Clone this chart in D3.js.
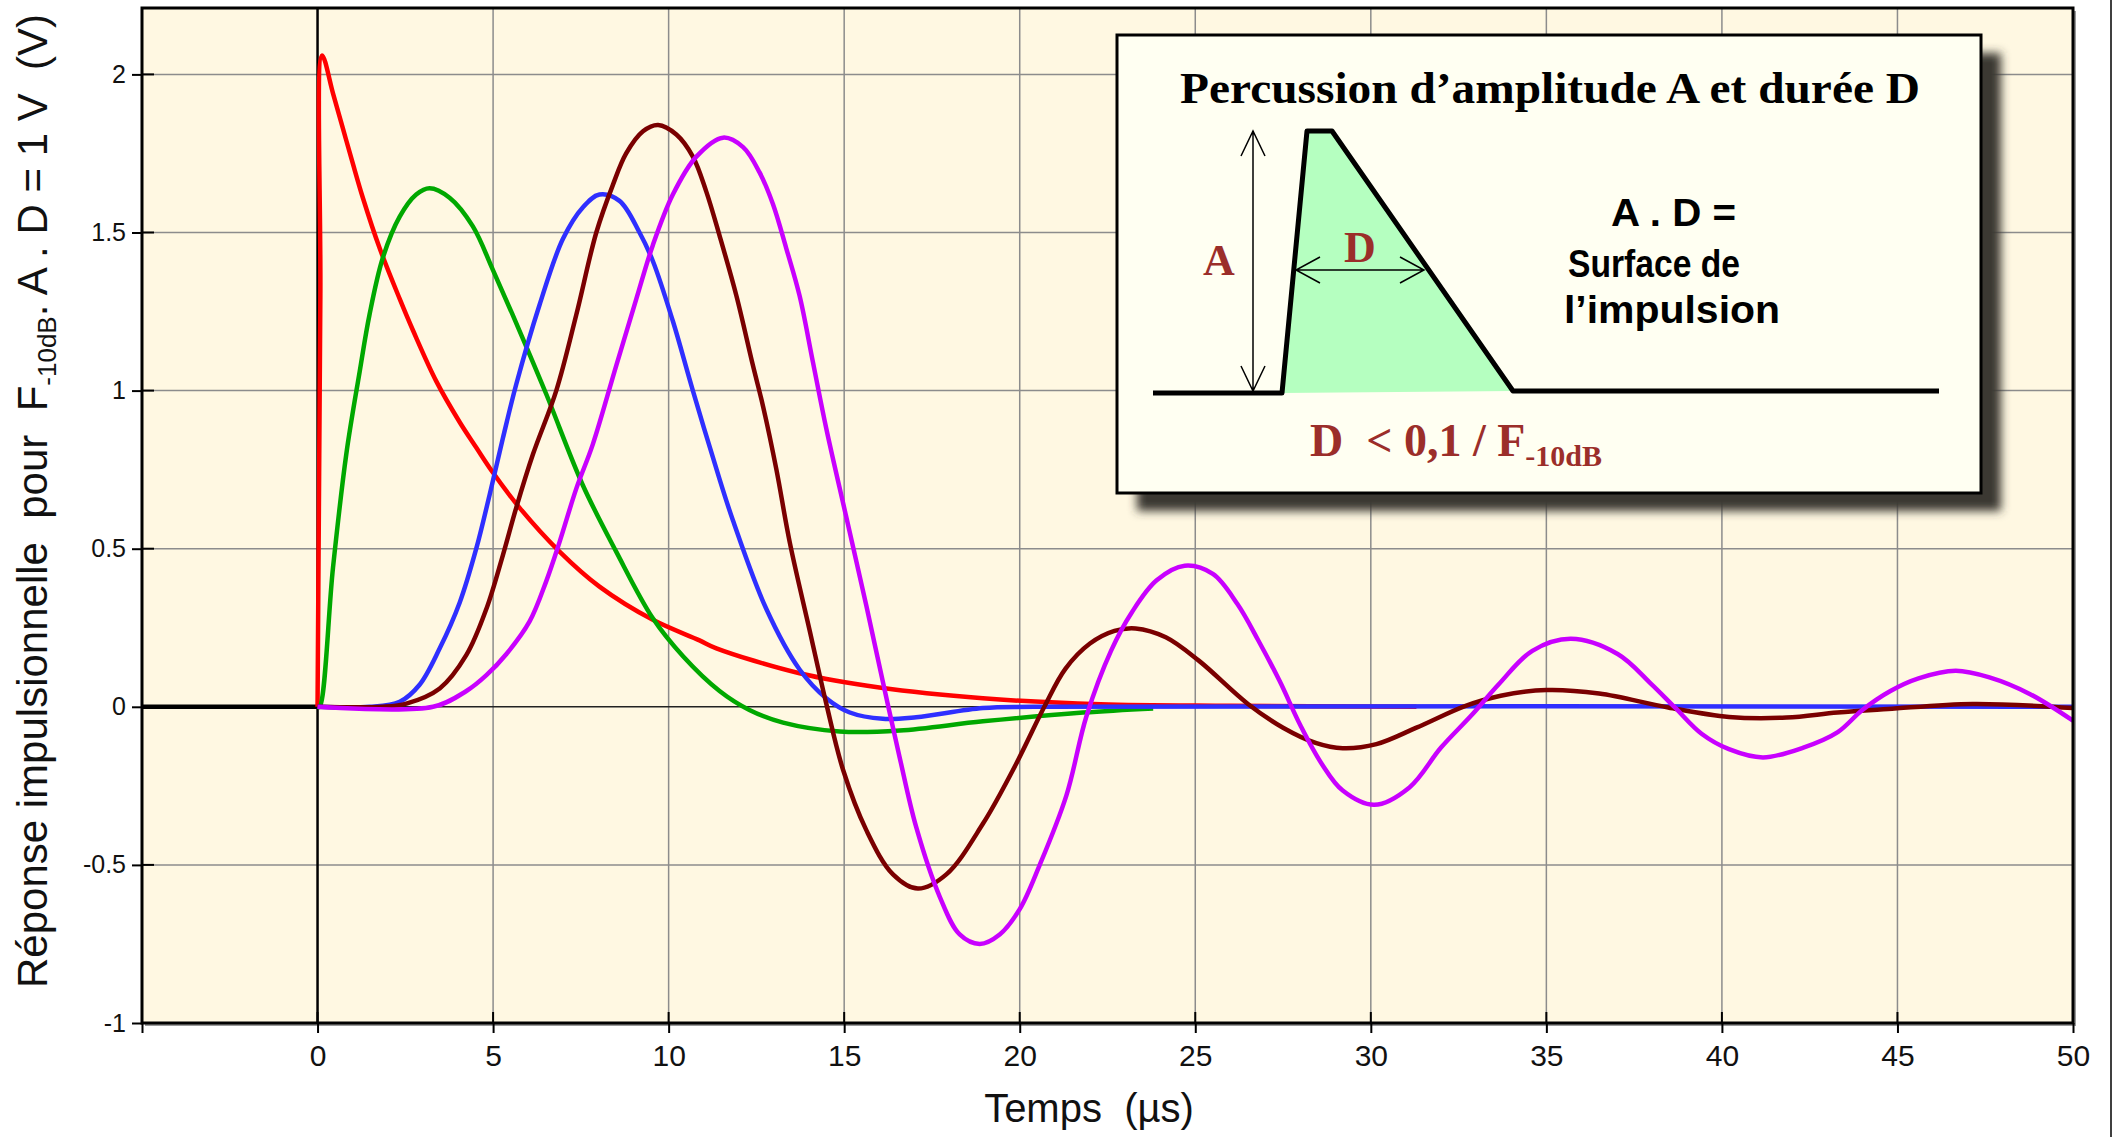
<!DOCTYPE html>
<meta charset="utf-8">
<html>
<head>
<script src="https://d3js.org/d3.v7.min.js"></script>
<style>
  body { margin: 0; background: #fff; }
  text { font-family: "Liberation Sans", Arial, sans-serif; white-space: pre; }
</style>
</head>
<body>
<div id="chart"></div>
<script>
var width = 2114, height = 1137,
    plot = { left: 142, right: 2073, top: 8, bottom: 1023 };

// axis ticks
var xTicks = [-5, 0, 5, 10, 15, 20, 25, 30, 35, 40, 45, 50];
var yTicks = [-1, -0.5, 0, 0.5, 1, 1.5, 2];
var yTickLabels = ["-1", "-0.5", "0", "0.5", "1", "1.5", "2"];

// red
var redT = [0, 0.08, 0.13, 0.44, 0.72, 1.0, 1.29, 1.77, 2.34, 2.72, 3.38, 4.05, 4.52, 5.0, 5.75, 6.9, 8.03, 9.55, 10.88, 11.36, 13.73, 16.0, 18.95, 22.3, 26.0, 31.3];
var redV = [0, 1.3, 2.06, 1.94, 1.83, 1.72, 1.61, 1.45, 1.29, 1.19, 1.03, 0.9, 0.82, 0.74, 0.63, 0.49, 0.38, 0.275, 0.21, 0.185, 0.106, 0.061, 0.027, 0.008, 0.003, 0.0];

// green
var greenT = [0, 0.06, 0.44, 0.82, 1.2, 1.48, 1.86, 2.34, 2.81, 3.19, 3.76, 4.42, 5.0, 5.75, 6.51, 7.56, 8.51, 9.55, 10.41, 11.45, 12.3, 13.26, 14.87, 16.58, 18.95, 21.8, 23.8];
var greenV = [0, 0, 0.44, 0.8, 1.06, 1.24, 1.42, 1.55, 1.62, 1.64, 1.61, 1.52, 1.38, 1.19, 0.99, 0.7, 0.49, 0.28, 0.16, 0.05, -0.01, -0.05, -0.078, -0.075, -0.046, -0.018, -0.005];

// blue
var blueT = [0, 1.48, 2.34, 2.9, 3.48, 4.05, 4.52, 4.9, 5.28, 5.66, 6.32, 6.99, 7.56, 8.03, 8.6, 9.17, 9.55, 10.12, 10.69, 11.45, 11.83, 12.78, 13.73, 14.49, 15.16, 16.1, 17.05, 18.95, 20.4, 50];
var blueV = [0, 0, 0.016, 0.069, 0.185, 0.33, 0.5, 0.67, 0.85, 1.02, 1.27, 1.48, 1.58, 1.62, 1.6, 1.5, 1.41, 1.22, 1.0, 0.72, 0.59, 0.31, 0.118, 0.027, -0.018, -0.038, -0.033, -0.004, 0, 0];

// dark red
var brownT = [0, 1.86, 2.53, 3.48, 4.24, 4.81, 5.28, 5.66, 6.14, 6.8, 7.37, 7.94, 8.41, 8.79, 9.27, 9.7, 10.22, 10.69, 11.07, 11.45, 11.93, 12.4, 12.69, 13.07, 13.45, 14.02, 14.49, 14.97, 15.63, 16.39, 17.1, 17.91, 18.95, 19.9, 20.7, 21.3, 22.0, 22.7, 23.3, 24.16, 25.1, 26.5, 27.5, 28.45, 29.2, 30.16, 31.3, 32.7, 33.7, 35.0, 36.5, 38.47, 40.2, 41.84, 43.29, 44.73, 47.14, 50];
var brownV = [0, 0, 0.01, 0.058, 0.164, 0.31, 0.48, 0.63, 0.8, 1.0, 1.24, 1.5, 1.65, 1.75, 1.82, 1.84, 1.81, 1.74, 1.63, 1.49, 1.3, 1.08, 0.95, 0.75, 0.52, 0.24, 0.01, -0.2, -0.39, -0.53, -0.575, -0.53, -0.37, -0.18, 0.0, 0.12, 0.2, 0.24, 0.248, 0.22, 0.146, 0.009, -0.066, -0.115, -0.131, -0.118, -0.066, 0.003, 0.035, 0.053, 0.042, -0.002, -0.032, -0.034, -0.018, -0.007, 0.009, -0.004];

// magenta
var magentaT = [0, 3.29, 4.24, 4.81, 5.38, 6.04, 6.51, 6.89, 7.37, 7.84, 8.51, 9.08, 9.55, 10.12, 10.79, 11.55, 12.12, 12.59, 12.97, 13.35, 13.73, 14.11, 14.49, 15.06, 15.63, 16.1, 16.58, 17.05, 17.72, 18.29, 18.86, 19.43, 20.0, 20.57, 21.33, 21.9, 22.6, 23.2, 23.9, 24.7, 25.5, 26.2, 26.8, 27.4, 28.0, 28.6, 29.2, 30.1, 31.1, 32.0, 32.9, 33.65, 34.6, 35.7, 37.03, 37.99, 38.66, 39.43, 40.2, 41.17, 42.32, 43.3, 44.0, 44.8, 45.6, 46.66, 47.62, 48.78, 50];
var magentaV = [0, 0, 0.05, 0.1, 0.167, 0.27, 0.396, 0.52, 0.69, 0.83, 1.08, 1.29, 1.46, 1.62, 1.74, 1.8, 1.77, 1.69, 1.59, 1.45, 1.3, 1.09, 0.88, 0.6, 0.32, 0.08, -0.16, -0.38, -0.6, -0.72, -0.75, -0.72, -0.64, -0.5, -0.28, -0.03, 0.177, 0.3, 0.4, 0.446, 0.42, 0.325, 0.209, 0.082, -0.06, -0.18, -0.265, -0.31, -0.255, -0.129, -0.023, 0.072, 0.177, 0.215, 0.167, 0.072, -0.002, -0.086, -0.134, -0.16, -0.129, -0.08, -0.01, 0.05, 0.09, 0.114, 0.093, 0.04, -0.044];

var seriesT = [redT, greenT, blueT, brownT, magentaT],
    seriesV = [redV, greenV, blueV, brownV, magentaV],
    colors = ["#ff0000", "#00a800", "#2f2fff", "#7a0000", "#c800ff"];

var series = seriesT.map(function(ts, i) {
  return ts.map(function(t, j) { return { t: t, v: seriesV[i][j] }; });
});

var x = d3.scaleLinear().domain([-5, 50]).range([plot.left, plot.right]);
var y = d3.scaleLinear().domain([-1, 2.21]).range([plot.bottom, plot.top]);

var svg = d3.select("#chart").append("svg")
    .attr("width", width)
    .attr("height", height);

var defs = svg.append("defs");
defs.append("clipPath").attr("id", "clip")
  .append("rect")
    .attr("x", plot.left).attr("y", plot.top)
    .attr("width", plot.right - plot.left)
    .attr("height", plot.bottom - plot.top);
defs.append("filter").attr("id", "blur")
    .attr("x", "-10%").attr("y", "-10%").attr("width", "130%").attr("height", "130%")
  .append("feGaussianBlur").attr("stdDeviation", 5);

// frame shadow
svg.append("rect")
    .attr("x", plot.left + 3).attr("y", plot.top + 3)
    .attr("width", plot.right - plot.left)
    .attr("height", plot.bottom - plot.top)
    .style("fill", "#9a9a9a");

svg.append("rect")
    .attr("x", plot.left).attr("y", plot.top)
    .attr("width", plot.right - plot.left)
    .attr("height", plot.bottom - plot.top)
    .style("fill", "#fff8e2");

// grid
svg.selectAll(".vgrid")
    .data(xTicks.filter(function(d) { return d > 0 && d < 50; }))
  .enter().append("line")
    .attr("x1", function(d) { return x(d); }).attr("x2", function(d) { return x(d); })
    .attr("y1", plot.top).attr("y2", plot.bottom)
    .style("stroke", "#8c8c8c").style("stroke-width", 1.5);

svg.selectAll(".hgrid")
    .data(yTicks.filter(function(d) { return d !== 0 && d > -1; }))
  .enter().append("line")
    .attr("x1", plot.left).attr("x2", plot.right)
    .attr("y1", function(d) { return y(d); }).attr("y2", function(d) { return y(d); })
    .style("stroke", "#8c8c8c").style("stroke-width", 1.5);

// zero lines
svg.append("line")
    .attr("x1", x(0)).attr("x2", x(50)).attr("y1", y(0)).attr("y2", y(0))
    .style("stroke", "#222").style("stroke-width", 1.5);
svg.append("line")
    .attr("x1", x(0)).attr("x2", x(0)).attr("y1", plot.top).attr("y2", plot.bottom)
    .style("stroke", "#000").style("stroke-width", 2.5);
svg.append("line")
    .attr("x1", x(-5)).attr("x2", x(0)).attr("y1", y(0)).attr("y2", y(0))
    .style("stroke", "#000").style("stroke-width", 4.5);

// curves
var line = d3.line()
    .x(function(d) { return x(d.t); })
    .y(function(d) { return y(d.v); })
    .curve(d3.curveCatmullRom.alpha(0.5));

svg.append("g").attr("clip-path", "url(#clip)")
  .selectAll(".curve")
    .data(series)
  .enter().append("path")
    .attr("d", line)
    .style("fill", "none")
    .style("stroke", function(d, i) { return colors[i]; })
    .style("stroke-width", 4.5)
    .style("stroke-linejoin", "round");

// frame
svg.append("rect")
    .attr("x", plot.left).attr("y", plot.top)
    .attr("width", plot.right - plot.left)
    .attr("height", plot.bottom - plot.top)
    .style("fill", "none").style("stroke", "#000").style("stroke-width", 3);

// axes
var yAxis = d3.axisLeft(y).tickValues(yTicks).tickSize(10).tickPadding(6)
    .tickFormat(function(d, i) { return yTickLabels[i]; });
var gy = svg.append("g").attr("transform", "translate(" + plot.left + ",0)").call(yAxis);
gy.select(".domain").remove();
gy.selectAll("line").style("stroke", "#000").style("stroke-width", 2);
gy.selectAll("text").style("font-family", "Liberation Sans, Arial").style("font-size", "25px").style("fill", "#111");

var xAxis = d3.axisBottom(x).tickValues(xTicks).tickSize(10).tickPadding(12)
    .tickFormat(function(d) { return d < 0 ? "" : d; });
var gx = svg.append("g").attr("transform", "translate(0," + plot.bottom + ")").call(xAxis);
gx.select(".domain").remove();
gx.selectAll("line").style("stroke", "#000").style("stroke-width", 2);
gx.selectAll("text").style("font-family", "Liberation Sans, Arial").style("font-size", "30px").style("fill", "#111");

// inner ticks
svg.selectAll(".yin").data(yTicks).enter().append("line")
    .attr("x1", plot.left).attr("x2", plot.left + 12)
    .attr("y1", function(d) { return y(d); }).attr("y2", function(d) { return y(d); })
    .style("stroke", "#000").style("stroke-width", 2);
svg.selectAll(".xin").data(xTicks).enter().append("line")
    .attr("x1", function(d) { return x(d); }).attr("x2", function(d) { return x(d); })
    .attr("y1", plot.bottom).attr("y2", plot.bottom - 11)
    .style("stroke", "#000").style("stroke-width", 2);

// axis titles
svg.append("text")
    .attr("x", 1089).attr("y", 1122)
    .attr("text-anchor", "middle")
    .style("font-size", "40px").style("fill", "#111")
    .text("Temps  (µs)");

var yl = svg.append("text")
    .attr("transform", "translate(47,501) rotate(-90)")
    .attr("text-anchor", "middle")
    .style("font-size", "42px").style("fill", "#111");
yl.append("tspan").text("Réponse impulsionnelle  pour  F");
yl.append("tspan").attr("dy", 9).style("font-size", "26px").text("-10dB");
yl.append("tspan").attr("dy", -9).text(". A . D = 1 V  (V)");

// inset box
var bx = 1117, by = 35, bw = 864, bh = 458;
var inset = svg.append("g");
inset.append("rect")
    .attr("x", bx + 20).attr("y", by + 18).attr("width", bw).attr("height", bh)
    .attr("filter", "url(#blur)")
    .style("fill", "#3b3733");
inset.append("rect")
    .attr("x", bx).attr("y", by).attr("width", bw).attr("height", bh)
    .style("fill", "#fffff2").style("stroke", "#000").style("stroke-width", 3);

inset.append("text")
    .attr("x", 1180).attr("y", 103)
    .attr("textLength", 740).attr("lengthAdjust", "spacingAndGlyphs")
    .style("font-family", "Liberation Serif, Times New Roman, serif")
    .style("font-weight", "bold").style("font-size", "44px").style("fill", "#000")
    .text("Percussion d’amplitude A et durée D");

// pulse shape
inset.append("path")
    .attr("d", "M1282,393 L1307,132 L1332,132 L1513,391 Z")
    .style("fill", "#b5ffc0");
inset.append("path")
    .attr("d", "M1153,393 L1282,393 L1307,131 L1332,131 L1513,391 L1939,391")
    .style("fill", "none").style("stroke", "#000").style("stroke-width", 5)
    .style("stroke-linejoin", "round");

// A arrow
inset.append("path")
    .attr("d", "M1253,131 L1253,391 M1241,156 L1253,131 L1265,156 M1241,366 L1253,391 L1265,366")
    .style("fill", "none").style("stroke", "#000").style("stroke-width", 1.5);
// D arrow
inset.append("path")
    .attr("d", "M1296,270 L1424,270 M1320,257 L1296,270 L1320,283 M1400,257 L1424,270 L1400,283")
    .style("fill", "none").style("stroke", "#000").style("stroke-width", 1.5);

var serif = "Liberation Serif, Times New Roman, serif";
inset.append("text").attr("x", 1219).attr("y", 275).attr("text-anchor", "middle")
    .style("font-family", serif).style("font-weight", "bold").style("font-size", "44px")
    .style("fill", "#9b2e2a").text("A");
inset.append("text").attr("x", 1360).attr("y", 262).attr("text-anchor", "middle")
    .style("font-family", serif).style("font-weight", "bold").style("font-size", "44px")
    .style("fill", "#9b2e2a").text("D");

var rhs = ["A . D =", "Surface de", "l’impulsion"],
    rhsX = [1611, 1568, 1564], rhsY = [226, 277, 323], rhsW = [125, 172, 216];
inset.selectAll(".rhs").data(rhs).enter().append("text")
    .attr("x", function(d, i) { return rhsX[i]; })
    .attr("y", function(d, i) { return rhsY[i]; })
    .attr("textLength", function(d, i) { return rhsW[i]; })
    .attr("lengthAdjust", "spacingAndGlyphs")
    .style("font-weight", "bold").style("font-size", "38px").style("fill", "#000")
    .text(function(d) { return d; });

var cond = inset.append("text").attr("x", 1310).attr("y", 456)
    .style("font-family", serif).style("font-weight", "bold").style("font-size", "46px")
    .style("fill", "#9b2e2a");
cond.append("tspan").text("D  < 0,1 / F");
cond.append("tspan").attr("dy", 10).style("font-size", "30px").text("-10dB");

// right border line of the picture
svg.append("line")
    .attr("x1", 2111).attr("x2", 2111).attr("y1", 0).attr("y2", height)
    .style("stroke", "#000").style("stroke-width", 1.5);
</script>
</body>
</html>
